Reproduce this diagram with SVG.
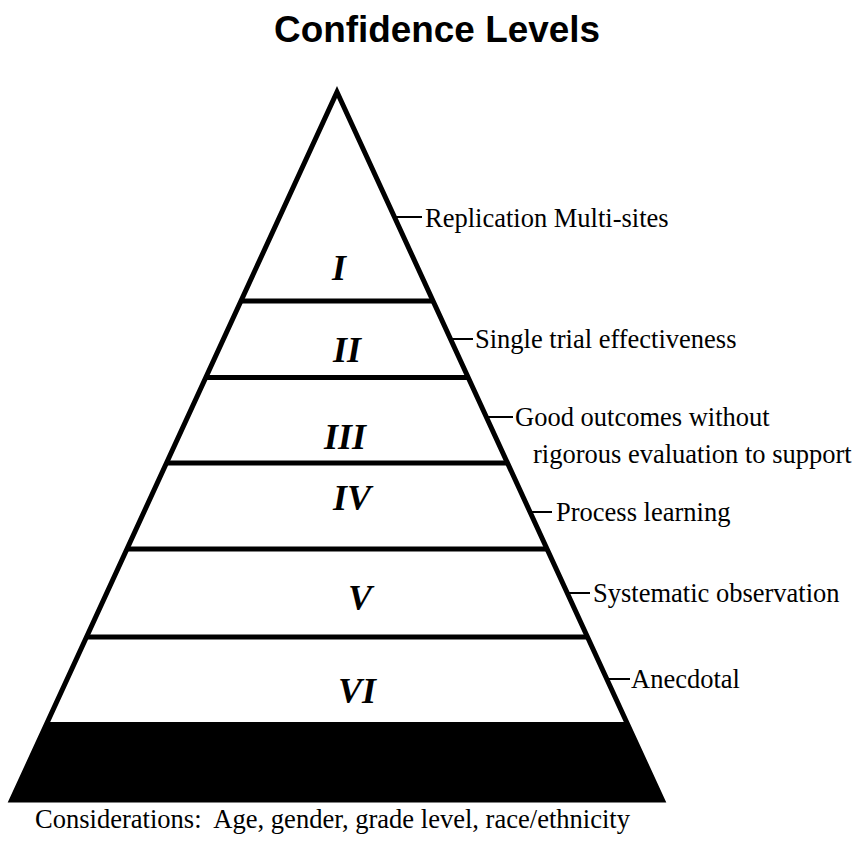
<svg xmlns="http://www.w3.org/2000/svg" width="859" height="842" viewBox="0 0 859 842">
  <style>
    .title { font-family: "Liberation Sans", Arial, sans-serif; font-weight: bold; font-size: 36px; fill: #000; }
    .label { font-family: "Liberation Serif", "Times New Roman", serif; font-size: 26.5px; fill: #000; white-space: pre; }
    .level { font-family: "Liberation Serif", "Times New Roman", serif; font-weight: bold; font-style: italic; font-size: 36px; fill: #000; text-anchor: middle; }
    .edge { fill: none; stroke: #000; stroke-width: 5; stroke-linejoin: miter; stroke-miterlimit: 10; }
    .band { stroke: #000; stroke-width: 5; }
    .tick { stroke: #000; stroke-width: 2; }
  </style>

  <rect width="859" height="842" fill="#fff"/>

  <text class="title" x="274" y="42" textLength="326" lengthAdjust="spacingAndGlyphs">Confidence Levels</text>

  <!-- pyramid outline and solid foundation -->
  <g id="pyramid">
    <polygon points="47.5,722 626.5,722 662.4,800 11.6,800" fill="#000"/>
    <polygon class="edge" points="337,92 662.4,800 11.6,800"/>
  </g>

  <!-- band dividers -->
  <g id="dividers">
    <line class="band" x1="240.9" y1="301" x2="433.1" y2="301"/>
    <line class="band" x1="205.8" y1="377.5" x2="468.2" y2="377.5"/>
    <line class="band" x1="166.5" y1="463" x2="507.5" y2="463"/>
    <line class="band" x1="127" y1="549" x2="547" y2="549"/>
    <line class="band" x1="86.5" y1="637" x2="587.5" y2="637"/>
  </g>

  <!-- level numerals -->
  <g id="level-I"><text class="level" x="339" y="280">I</text></g>
  <g id="level-II"><text class="level" x="347" y="362">II</text></g>
  <g id="level-III"><text class="level" x="345" y="449">III</text></g>
  <g id="level-IV"><text class="level" x="352" y="510">IV</text></g>
  <g id="level-V"><text class="level" x="360" y="610">V</text></g>
  <g id="level-VI"><text class="level" x="357" y="703">VI</text></g>

  <!-- leader ticks from the right edge -->
  <g id="connectors">
    <line class="tick" x1="395" y1="217" x2="422" y2="217"/>
    <line class="tick" x1="450" y1="339" x2="473" y2="339"/>
    <line class="tick" x1="487" y1="417" x2="513" y2="417"/>
    <line class="tick" x1="530" y1="512" x2="552" y2="512"/>
    <line class="tick" x1="567" y1="593" x2="590" y2="593"/>
    <line class="tick" x1="606" y1="679" x2="630" y2="679"/>
  </g>

  <!-- level descriptions -->
  <g id="label-I"><text class="label" x="425" y="227">Replication Multi-sites</text></g>
  <g id="label-II"><text class="label" x="475" y="348">Single trial effectiveness</text></g>
  <g id="label-III">
    <text class="label" x="515" y="426">Good outcomes without</text>
    <text class="label" x="533" y="463">rigorous evaluation to support</text>
  </g>
  <g id="label-IV"><text class="label" x="556" y="521">Process learning</text></g>
  <g id="label-V"><text class="label" x="593" y="602">Systematic observation</text></g>
  <g id="label-VI"><text class="label" x="631" y="688">Anecdotal</text></g>

  <text class="label" x="35" y="828" textLength="595" lengthAdjust="spacingAndGlyphs">Considerations:  Age, gender, grade level, race/ethnicity</text>
</svg>
